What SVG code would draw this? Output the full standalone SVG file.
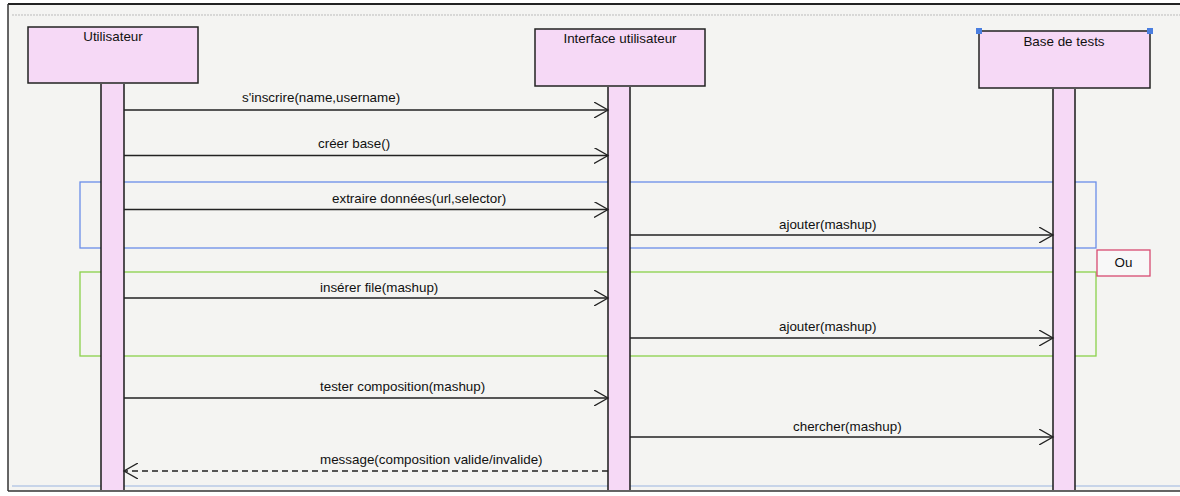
<svg xmlns="http://www.w3.org/2000/svg" width="1180" height="496" viewBox="0 0 1180 496">
  <style>
    .lbl { font-family: "Liberation Sans", Arial, sans-serif; font-size: 13.4px; fill: #111; }
    .head { fill: #f6d9f6; stroke: #222; stroke-width: 1.5; }
    .bar { fill: #f6d9f6; stroke: none; }
    .edge { stroke: #1a1a1a; stroke-width: 1.5; }
    .msg { stroke: #222; stroke-width: 1.4; fill: none; }
    .ret { stroke: #222; stroke-width: 1.4; fill: none; stroke-dasharray: 6 4; }
  </style>
  <defs>
    <marker id="open" markerWidth="16" markerHeight="16" refX="14" refY="8" orient="auto" markerUnits="userSpaceOnUse">
      <path d="M0,0 L14,8 L0,16" fill="none" stroke="#222" stroke-width="1.3"/>
    </marker>
  </defs>

  <!-- canvas -->
  <rect x="0" y="0" width="1180" height="496" fill="#ffffff"/>
  <rect x="8" y="4" width="1172" height="487" fill="#f4f4f2"/>
  <line x1="8" y1="4" x2="1180" y2="4" stroke="#222" stroke-width="2"/>
  <line x1="8" y1="4" x2="8" y2="491" stroke="#333" stroke-width="1.5"/>
  <line x1="8" y1="491" x2="1180" y2="491" stroke="#333" stroke-width="1.5"/>
  <line x1="12" y1="15" x2="1180" y2="15" stroke="#bbb" stroke-width="1" stroke-dasharray="2 1"/>
  <line x1="12" y1="486" x2="1180" y2="486" stroke="#9ab4e0" stroke-width="1"/>

  <!-- combined fragments -->
  <g id="frag-extraire">
    <rect x="80" y="182" width="1016" height="66" fill="none" stroke="#6a8ee8" stroke-width="1.3"/>
  </g>
  <g id="frag-inserer">
    <rect x="80" y="272" width="1016" height="84" fill="none" stroke="#8ad24a" stroke-width="1.3"/>
  </g>
  <g id="ou">
    <rect x="1097" y="250" width="53" height="26" fill="#f8f8f8" stroke="#d84a70" stroke-width="1.3"/>
    <text class="lbl" x="1123.5" y="267" text-anchor="middle">Ou</text>
  </g>

  <!-- lifelines -->
  <g id="utilisateur">
    <rect class="bar" x="101" y="84" width="23" height="406"/>
    <line class="edge" x1="101" y1="84" x2="101" y2="490"/>
    <line class="edge" x1="124" y1="84" x2="124" y2="490"/>
    <rect class="head" x="28" y="27" width="170" height="56"/>
    <text class="lbl" x="113" y="41" text-anchor="middle">Utilisateur</text>
  </g>
  <g id="interface">
    <rect class="bar" x="608" y="87" width="22" height="403"/>
    <line class="edge" x1="608" y1="87" x2="608" y2="490"/>
    <line class="edge" x1="630" y1="87" x2="630" y2="490"/>
    <rect class="head" x="535" y="29" width="170" height="57"/>
    <text class="lbl" x="620" y="43" text-anchor="middle">Interface utilisateur</text>
  </g>
  <g id="base">
    <rect class="bar" x="1053" y="89" width="22" height="401"/>
    <line class="edge" x1="1053" y1="89" x2="1053" y2="490"/>
    <line class="edge" x1="1075" y1="89" x2="1075" y2="490"/>
    <rect class="head" x="979" y="31" width="171" height="57"/>
    <text class="lbl" x="1064" y="46" text-anchor="middle">Base de tests</text>
    <rect x="976" y="28" width="6" height="6" fill="#4a7ee0"/>
    <rect x="1147" y="28" width="6" height="6" fill="#4a7ee0"/>
  </g>

  <!-- messages -->
  <g id="connectors">
    <line class="msg" x1="124" y1="110" x2="608" y2="110" marker-end="url(#open)"/>
    <text class="lbl" x="242" y="102">s'inscrire(name,username)</text>

    <line class="msg" x1="124" y1="155.5" x2="608" y2="155.5" marker-end="url(#open)"/>
    <text class="lbl" x="318" y="148">créer base()</text>

    <line class="msg" x1="124" y1="209.5" x2="608" y2="209.5" marker-end="url(#open)"/>
    <text class="lbl" x="332" y="203">extraire données(url,selector)</text>

    <line class="msg" x1="630" y1="235" x2="1053" y2="235" marker-end="url(#open)"/>
    <text class="lbl" x="779" y="229">ajouter(mashup)</text>

    <line class="msg" x1="124" y1="298" x2="608" y2="298" marker-end="url(#open)"/>
    <text class="lbl" x="320" y="292">insérer file(mashup)</text>

    <line class="msg" x1="630" y1="338" x2="1053" y2="338" marker-end="url(#open)"/>
    <text class="lbl" x="779" y="331">ajouter(mashup)</text>

    <line class="msg" x1="124" y1="398" x2="608" y2="398" marker-end="url(#open)"/>
    <text class="lbl" x="320" y="391">tester composition(mashup)</text>

    <line class="msg" x1="630" y1="437" x2="1053" y2="437" marker-end="url(#open)"/>
    <text class="lbl" x="793" y="431">chercher(mashup)</text>

    <line class="ret" x1="608" y1="471" x2="124" y2="471" marker-end="url(#open)"/>
    <text class="lbl" x="320" y="464">message(composition valide/invalide)</text>
  </g>
</svg>
